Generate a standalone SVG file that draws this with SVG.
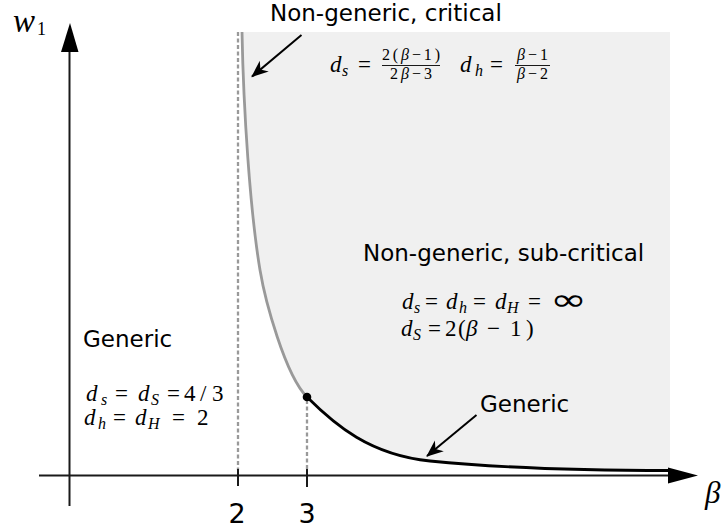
<svg xmlns="http://www.w3.org/2000/svg" width="727" height="531" viewBox="0 0 727 531">
<style>
.lbl{font-family:"DejaVu Sans","Liberation Sans",sans-serif;fill:#000;font-size:23px}
.m{font-family:"Liberation Serif","DejaVu Serif",serif;fill:#000;font-size:23px}
.i{font-style:italic}
.sub{font-size:16px;font-style:italic}
.fr{font-size:16px}
.dash{stroke:#999;stroke-width:2.3;stroke-dasharray:4,2.5;fill:none}
.ax{stroke:#1a1a1a;stroke-width:2;fill:none}
.ann{stroke:#000;stroke-width:2;fill:none;marker-end:url(#ah)}
</style>
<defs>
<marker id="ah" markerUnits="userSpaceOnUse" viewBox="-17 -8 19 16" refX="0" refY="0" markerWidth="19" markerHeight="16" orient="auto">
<path d="M1,0 L-16,-7 L-11,0 L-16,7 Z" fill="#000"/>
</marker>
</defs>
<rect width="727" height="531" fill="#fff"/>
<g id="region">
<path d="M242,32 L670,32 L670,470.5 C580,470.5 490,467 430,461 C370,455 335,425 307,397 C285,375 265,300 260,270 C250,210 243.5,110 242,32 Z" fill="#f0f0f0"/>
</g>
<g id="guides">
<line class="dash" x1="238" y1="32" x2="238" y2="470"/>
<line class="dash" x1="307" y1="400" x2="307" y2="470"/>
</g>
<g id="axes">
<line class="ax" x1="39" y1="475.5" x2="670" y2="475.5"/>
<polygon points="668,467.5 698,475.5 668,483.5" fill="#000"/>
<line class="ax" x1="69.5" y1="506" x2="69.5" y2="50"/>
<polygon points="61,52 70,23 78.5,52" fill="#000"/>
<line class="ax" x1="238" y1="469" x2="238" y2="486"/>
<line class="ax" x1="307" y1="469" x2="307" y2="487"/>
<text class="m i" x="13" y="32" style="font-size:33px">w</text>
<text class="m" x="37" y="35" style="font-size:18px">1</text>
<text class="m i" x="705" y="503" style="font-size:31px">β</text>
<text class="lbl" x="237" y="523" text-anchor="middle" style="font-size:27px">2</text>
<text class="lbl" x="307" y="523" text-anchor="middle" style="font-size:27px">3</text>
</g>
<g id="curves">
<path d="M242,32 C243.5,110 250,210 260,270 C265,300 285,375 307,397" stroke="#999" stroke-width="2.8" fill="none"/>
<path d="M307,397 C335,425 370,455 430,461 C490,467 580,470.5 670,470.5" stroke="#000" stroke-width="2.8" fill="none"/>
<circle cx="307" cy="397" r="4.3" fill="#000"/>
</g>
<g id="connectors">
<line class="ann" x1="301.5" y1="35" x2="252" y2="76.5"/>
<line class="ann" x1="476.5" y1="415" x2="427" y2="456"/>
</g>
<g id="label-critical">
<text class="lbl" x="270" y="21">Non-generic, critical</text>
<text class="m i" x="330" y="72">d</text><text class="m sub" x="342" y="76">s</text>
<text class="m" x="358" y="72">=</text>
<text class="m fr" x="382" y="60" textLength="58">2(<tspan class="i">β</tspan>−1)</text>
<line x1="382" y1="65.5" x2="440" y2="65.5" stroke="#000" stroke-width="0.9"/>
<text class="m fr" x="390" y="79" textLength="42">2<tspan class="i">β</tspan>−3</text>
<text class="m i" x="460" y="72">d</text><text class="m sub" x="475" y="76">h</text>
<text class="m" x="490" y="72">=</text>
<text class="m fr" x="517" y="60" textLength="31"><tspan class="i">β</tspan>−1</text>
<line x1="515" y1="65.5" x2="550" y2="65.5" stroke="#000" stroke-width="0.9"/>
<text class="m fr" x="517" y="79" textLength="31"><tspan class="i">β</tspan>−2</text>
</g>
<g id="label-subcritical">
<text class="lbl" x="363" y="261">Non-generic, sub-critical</text>
<text class="m i" x="402" y="309">d</text><text class="m sub" x="414" y="313">s</text>
<text class="m" x="425" y="309">=</text>
<text class="m i" x="446" y="309">d</text><text class="m sub" x="459" y="313">h</text>
<text class="m" x="473" y="309">=</text>
<text class="m i" x="495" y="309">d</text><text class="m sub" x="507" y="313">H</text>
<text class="m" x="528" y="309">=</text>
<text x="550" y="310" style="font-family:'DejaVu Sans',sans-serif;font-size:30px" textLength="37" lengthAdjust="spacingAndGlyphs">∞</text>
<text class="m i" x="401" y="336">d</text><text class="m sub" x="413" y="340">S</text>
<text class="m" x="428" y="336">=</text>
<text class="m" y="336"><tspan x="445">2</tspan><tspan x="458">(</tspan><tspan class="i" x="466">β</tspan><tspan x="487">−</tspan><tspan x="510">1</tspan><tspan x="526">)</tspan></text>
</g>
<g id="label-generic-left">
<text class="lbl" x="83" y="347">Generic</text>
<text class="m i" x="86" y="401">d</text><text class="m sub" x="101" y="405">s</text>
<text class="m" x="115" y="401">=</text>
<text class="m i" x="138" y="401">d</text><text class="m sub" x="151" y="405">S</text>
<text class="m" x="167" y="401">=</text>
<text class="m" y="401"><tspan x="184">4</tspan><tspan x="200">/</tspan><tspan x="212">3</tspan></text>
<text class="m i" x="84" y="425">d</text><text class="m sub" x="98" y="429">h</text>
<text class="m" x="113" y="425">=</text>
<text class="m i" x="135" y="425">d</text><text class="m sub" x="148" y="429">H</text>
<text class="m" x="172" y="425">=</text>
<text class="m" x="197" y="425">2</text>
</g>
<g id="label-generic-right">
<text class="lbl" x="480" y="412">Generic</text>
</g>
</svg>
